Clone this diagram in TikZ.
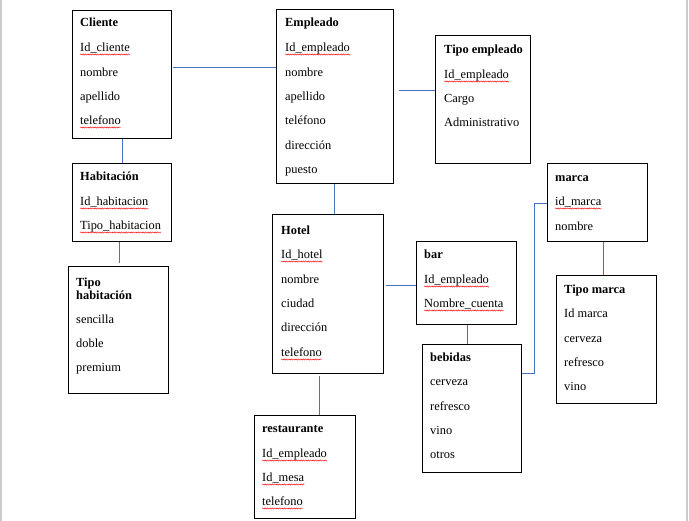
\documentclass[tikz,border=0pt]{standalone}
\usepackage{fontspec}
\setmainfont{Liberation Serif}
\usetikzlibrary{calc,decorations.pathmorphing}
\definecolor{linkblue}{HTML}{4472C4}
\definecolor{pageedge}{HTML}{CCCCCC}
\tikzset{
  ent/.style={draw=black, line width=1.2pt, minimum width=#1, anchor=north west, inner sep=0pt},
  fld/.style={anchor=base west, inner sep=0pt, yshift=-1.5pt, font=\fontsize{12.4}{14}\selectfont},
  ttl/.style={fld, font=\fontsize{12.4}{14}\selectfont\bfseries},
  conn/.style={draw=linkblue, line width=1pt},
  squig/.style={draw=red, line width=0.45pt, decorate, decoration={snake, amplitude=0.6pt, segment length=2.4pt}}
}
\newcommand{\sqline}[1]{\draw[squig] ($(#1.base west)+(0,3)$) -- ($(#1.base east)+(0,3)$);}
\begin{document}
\begin{tikzpicture}[x=1pt,y=-1pt]
\useasboundingbox (0,0) rectangle (689,521);
\fill[white] (0,0) rectangle (689,521);
% page edges
\draw[pageedge, line width=1.5pt] (0.8,0) -- (0.8,521);
\draw[pageedge, line width=1.5pt] (687.2,0) -- (687.2,521);

% boxes
\node[ent=99pt, minimum height=128pt] (cli) at (72,10) {};
\node[ent=99pt, minimum height=78pt] (hab) at (72,163) {};
\node[ent=100pt, minimum height=127pt] (thab) at (68,266) {};
\node[ent=117pt, minimum height=174pt] (emp) at (276,9) {};
\node[ent=95pt, minimum height=128pt] (temp) at (435,35) {};
\node[ent=111pt, minimum height=159pt] (hot) at (272,214) {};
\node[ent=100pt, minimum height=83pt] (bar) at (416,241) {};
\node[ent=99pt, minimum height=128pt] (beb) at (422,344) {};
\node[ent=101pt, minimum height=103pt] (res) at (254,415) {};
\node[ent=100pt, minimum height=78pt] (mar) at (547,163) {};
\node[ent=100pt, minimum height=128pt] (tmar) at (556,275) {};

% Cliente
\node[ttl] (cli0) at (80,25) {Cliente};
\node[fld] (cli1) at (80,50) {Id\_cliente};
\node[fld] (cli2) at (80,75) {nombre};
\node[fld] (cli3) at (80,99) {apellido};
\node[fld] (cli4) at (80,123) {telefono};
\sqline{cli1}\sqline{cli4}

% Habitacion
\node[ttl] (hab0) at (80,179) {Habitación};
\node[fld] (hab1) at (80,204) {Id\_habitacion};
\node[fld] (hab2) at (80,228) {Tipo\_habitacion};
\sqline{hab1}\sqline{hab2}

% Tipo habitacion
\node[ttl] (thab0) at (76,285) {Tipo};
\node[ttl] (thab0b) at (76,298) {habitación};
\node[fld] (thab1) at (76,322) {sencilla};
\node[fld] (thab2) at (76,346) {doble};
\node[fld] (thab3) at (76,370) {premium};

% Empleado
\node[ttl] (emp0) at (285,25) {Empleado};
\node[fld] (emp1) at (285,50) {Id\_empleado};
\node[fld] (emp2) at (285,75) {nombre};
\node[fld] (emp3) at (285,99) {apellido};
\node[fld] (emp4) at (285,123) {teléfono};
\node[fld] (emp5) at (285,148) {dirección};
\node[fld] (emp6) at (285,172) {puesto};
\sqline{emp1}

% Tipo empleado
\node[ttl] (temp0) at (444,52) {Tipo empleado};
\node[fld] (temp1) at (444,77) {Id\_empleado};
\node[fld] (temp2) at (444,101) {Cargo};
\node[fld] (temp3) at (444,125) {Administrativo};
\sqline{temp1}

% Hotel
\node[ttl] (hot0) at (281,233) {Hotel};
\node[fld] (hot1) at (281,257) {Id\_hotel};
\node[fld] (hot2) at (281,282) {nombre};
\node[fld] (hot3) at (281,306) {ciudad};
\node[fld] (hot4) at (281,330) {dirección};
\node[fld] (hot5) at (281,355) {telefono};
\sqline{hot1}\sqline{hot5}

% bar
\node[ttl] (bar0) at (424,257) {bar};
\node[fld] (bar1) at (424,282) {Id\_empleado};
\node[fld] (bar2) at (424,306) {Nombre\_cuenta};
\sqline{bar1}\sqline{bar2}

% bebidas
\node[ttl] (beb0) at (430,360) {bebidas};
\node[fld] (beb1) at (430,384) {cerveza};
\node[fld] (beb2) at (430,409) {refresco};
\node[fld] (beb3) at (430,433) {vino};
\node[fld] (beb4) at (430,457) {otros};

% restaurante
\node[ttl] (res0) at (262,431) {restaurante};
\node[fld] (res1) at (262,456) {Id\_empleado};
\node[fld] (res2) at (262,480) {Id\_mesa};
\node[fld] (res3) at (262,504) {telefono};
\sqline{res1}\sqline{res2}\sqline{res3}

% marca
\node[ttl] (mar0) at (555,180) {marca};
\node[fld] (mar1) at (555,204) {id\_marca};
\node[fld] (mar2) at (555,229) {nombre};
\sqline{mar1}

% Tipo marca
\node[ttl] (tmar0) at (564,292) {Tipo marca};
\node[fld] (tmar1) at (564,316) {Id marca};
\node[fld] (tmar2) at (564,341) {cerveza};
\node[fld] (tmar3) at (564,365) {refresco};
\node[fld] (tmar4) at (564,389) {vino};

% helper coordinates
\coordinate (yce) at (0,67.5);
\coordinate (yet) at (0,90.5);
\coordinate (yhb) at (0,285.5);
\coordinate (ybm) at (0,373.5);
\coordinate (ymr) at (0,204);
\coordinate (xch) at (122,0);
\coordinate (xht) at (119,0);
\coordinate (xeh) at (334,0);
\coordinate (xhr) at (319,0);
\coordinate (xbb) at (467,0);
\coordinate (xmt) at (603,0);
\coordinate (bend1) at (534.5,373.5);
\coordinate (bend2) at (534.5,204);

% connectors
\draw[conn] ($(cli.east |- yce)+(1,0)$) -- (emp.west |- yce);
\draw[conn] (cli.south -| xch) -- (hab.north -| xch);
\draw[conn] (hab.south -| xht) -- ($(thab.north -| xht)+(0,-3)$);
\draw[conn] ($(emp.east |- yet)+(5,0)$) -- (temp.west |- yet);
\draw[conn] (emp.south -| xeh) -- (hot.north -| xeh);
\draw[conn] ($(hot.east |- yhb)+(2,0)$) -- (bar.west |- yhb);
\draw[conn] (bar.south -| xbb) -- (beb.north -| xbb);
\draw[conn] ($(hot.south -| xhr)+(0,2)$) -- (res.north -| xhr);
\draw[conn] (beb.east |- ybm) -- (bend1) -- (bend2) -- (mar.west |- ymr);
\draw[conn] (mar.south -| xmt) -- (tmar.north -| xmt);
\end{tikzpicture}
\end{document}
